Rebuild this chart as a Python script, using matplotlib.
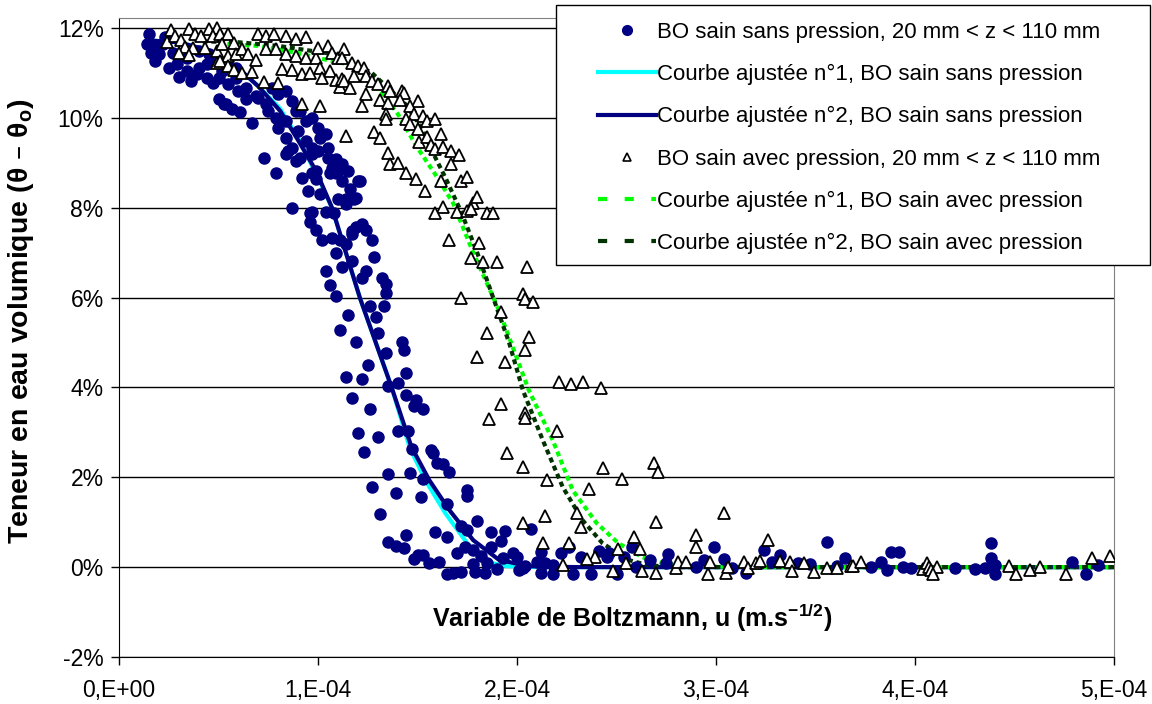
import numpy as np
import matplotlib
matplotlib.use('Agg')
import matplotlib.pyplot as plt
from matplotlib.ticker import FuncFormatter
from matplotlib.lines import Line2D
from matplotlib.patches import Rectangle

plt.rcParams['font.family'] = ['Liberation Sans', 'DejaVu Sans']

#---
# measured points : u in 1e-4 m.s^-1/2, theta in %
#---
# BO sain sans pression
u_sans = [0.15, 0.14, 0.19, 0.23, 0.16, 0.20, 0.18, 0.25, 0.30, 0.34, 0.36, 0.40, 0.44, 0.47, 0.50,
          0.54, 0.57, 0.61, 0.67, 0.49, 0.52, 0.55, 0.60, 0.64, 0.69, 0.74, 0.77, 0.75, 0.80, 0.84,
          0.87, 0.89, 0.79, 0.80, 0.84, 0.87, 0.85, 0.90, 0.94, 0.97, 1.00, 1.04, 0.94, 0.97, 1.00,
          1.05, 1.09, 1.05, 1.12, 1.10, 0.73, 0.79, 0.92, 0.99, 0.89, 0.39, 0.44, 0.50, 0.59, 0.64,
          0.70, 0.59, 0.40, 0.45, 0.29, 0.34, 0.22, 0.27, 0.53,
          0.87, 0.96, 0.96, 0.99, 1.02, 1.07, 1.09, 1.04, 1.06, 1.09, 1.12, 1.17, 1.24, 1.17, 1.22,
          1.19, 1.27, 1.28, 1.32, 1.34, 1.34, 1.10, 1.14, 1.18, 1.20, 1.15, 1.07, 1.01, 0.91, 0.84,
          0.84, 0.91, 0.97, 1.11, 1.14, 0.95, 0.97,
          0.97, 1.04, 1.08, 0.99, 1.01, 1.06, 1.09, 1.12, 1.16, 1.21, 1.19, 1.14, 1.17, 1.24, 1.22,
          1.26, 1.33, 1.29, 1.15, 1.11, 1.30, 1.19, 1.42, 1.43, 1.34, 1.25, 1.14, 1.22, 1.35, 1.40, 1.44,
          1.17, 1.26, 1.44, 1.49, 1.48, 1.53, 1.20, 1.30, 1.40, 1.45, 1.23, 1.47, 1.57, 1.58, 1.60,
          1.63, 1.66, 1.35, 1.46, 1.53, 1.27, 1.39, 1.52, 1.75, 1.75, 1.65, 1.31, 1.72, 1.80, 1.44,
          1.59, 1.65, 1.75, 1.87, 1.94, 1.92, 1.35, 1.39, 1.43, 1.50, 1.48, 1.53, 1.56, 1.61, 1.70,
          1.74, 1.78, 1.82, 1.78, 1.87, 1.85, 1.93, 1.98, 2.00, 2.01, 2.04, 1.65, 1.68, 1.72, 1.79,
          1.84, 1.90,
          2.07, 2.03, 2.12, 2.10, 2.14, 2.18, 2.12, 2.18, 2.22, 2.26, 2.28, 2.32, 2.37, 2.41, 2.45,
          2.46, 2.50, 2.54, 2.58, 2.60, 2.67, 2.76, 2.75, 2.94, 2.99, 2.90, 3.04, 3.08, 3.15,
          3.24, 3.28, 3.32, 3.41, 3.47, 3.56, 3.61, 3.65, 3.78, 3.83, 3.86, 3.88, 3.92, 3.94, 3.98,
          4.20, 4.30, 4.35, 4.38, 4.38, 4.40, 4.40, 4.79, 4.86, 4.92]
th_sans = [11.87, 11.64, 11.60, 11.80, 11.44, 11.42, 11.27, 11.10, 10.90, 11.33, 10.82, 11.10, 11.20, 10.78, 10.42,
           10.30, 10.20, 10.13, 9.89, 11.33, 11.04, 10.76, 10.60, 10.42, 10.49, 10.30, 10.67, 10.16, 10.53, 10.60,
           10.38, 10.16, 10.00, 9.78, 9.56, 9.33, 9.27, 9.71, 9.93, 10.00, 9.78, 9.64, 9.49, 9.33, 9.27,
           9.33, 9.09, 9.11, 8.98, 8.82, 9.10, 8.76, 8.67, 8.82, 9.04, 10.98, 10.89, 10.89, 10.89, 10.67,
           10.44, 11.10, 11.49, 11.42, 11.20, 11.04, 11.64, 11.44, 10.31,
           8.00, 7.89, 7.67, 7.51, 7.29, 7.33, 6.98, 6.58, 6.27, 6.04, 6.67, 6.82, 6.58, 7.49, 7.64,
           7.56, 7.27, 6.91, 6.44, 6.31, 6.09, 8.20, 8.20, 8.20, 8.60, 8.82, 8.89, 9.56, 10.16, 9.93,
           9.20, 9.11, 9.20, 7.27, 7.20, 8.38, 8.76,
           7.91, 7.91, 7.89, 8.64, 8.31, 8.78, 8.76, 8.60, 8.42, 8.60, 8.22, 8.09, 7.42, 7.51, 6.44,
           5.82, 5.80, 5.56, 5.62, 5.27, 5.20, 5.00, 5.02, 4.84, 4.76, 4.49, 4.22, 4.18, 4.04, 4.09, 4.31,
           3.76, 3.53, 3.84, 3.73, 3.58, 3.53, 2.98, 2.89, 3.04, 3.02, 2.56, 2.62, 2.60, 2.53, 2.31,
           2.29, 2.11, 2.07, 2.09, 1.96, 1.78, 1.64, 1.56, 1.71, 1.58, 1.40, 1.18, 0.91, 1.02, 0.71,
           0.78, 0.67, 0.82, 0.78, 0.80, 0.58, 0.56, 0.47, 0.42, 0.27, 0.18, 0.27, 0.09, 0.11, 0.31,
           0.44, 0.38, 0.24, 0.07, 0.44, 0.09, 0.20, 0.31, 0.22, -0.07, 0.02, -0.16, -0.13, -0.11, -0.11,
           -0.13, -0.04,
           0.84, -0.02, 0.33, 0.11, 0.09, 0.04, -0.13, -0.16, 0.31, 0.44, -0.16, 0.22, -0.16, 0.36, 0.22,
           0.31, -0.16, 0.22, 0.44, 0.00, 0.16, 0.29, 0.09, 0.16, 0.44, 0.00, 0.18, -0.02, -0.13,
           0.38, 0.11, 0.27, 0.09, 0.07, 0.56, 0.02, 0.20, 0.00, 0.11, -0.07, 0.33, 0.33, 0.00, -0.02,
           -0.02, -0.04, -0.02, 0.53, 0.20, 0.04, -0.16, 0.11, -0.16, 0.04]

# BO sain avec pression
u_avec = [0.26, 0.24, 0.28, 0.31, 0.35, 0.38, 0.41, 0.45, 0.49, 0.47, 0.51, 0.55, 0.33, 0.37, 0.30,
          0.35, 0.43, 0.49, 0.52, 0.58, 0.55, 0.59, 0.49, 0.51, 0.55, 0.58, 0.62, 0.67, 0.62, 0.65,
          0.69, 0.70, 0.74, 0.78, 0.84, 0.89, 0.94, 0.74, 0.79, 0.84, 0.89, 0.94, 0.99, 1.05, 1.00,
          0.82, 0.87, 0.92, 0.96, 1.01, 1.06, 1.02, 1.09, 1.11, 1.12, 0.73, 0.80, 0.92, 1.01, 1.14,
          1.07, 1.10,
          1.13, 1.12, 1.17, 1.20, 1.23, 1.13, 1.16, 1.18, 1.24, 1.27, 1.24, 1.30, 1.35, 1.36, 1.31,
          1.35, 1.22, 1.42, 1.43, 1.41, 1.50, 1.34, 1.34, 1.46, 1.48, 1.44, 1.53, 1.55, 1.59, 1.46,
          1.50, 1.51, 1.55, 1.57, 1.59, 1.62, 1.63, 1.67, 1.71, 1.67, 1.28, 1.31, 1.35, 1.36, 1.40,
          1.44, 1.49, 1.72, 1.75,
          1.62, 1.78, 1.80, 1.63, 1.70, 1.75, 1.77, 1.85, 1.88, 1.66, 1.81, 1.77, 1.83, 1.90, 2.05,
          1.72, 2.03, 2.04, 2.08, 1.92, 1.85, 2.06, 2.04, 1.80, 1.94, 2.21, 2.27, 2.33, 2.42, 1.54, 1.59,
          1.92, 1.86, 2.04, 2.04, 1.95, 2.03, 2.03,
          2.69, 2.71, 2.53, 2.43, 2.36, 2.14, 2.70, 2.59, 2.62, 2.55, 2.48, 2.39, 2.35, 2.26, 2.23,
          2.13, 2.51, 2.63, 2.70, 2.80, 2.81, 2.85, 2.90, 2.90, 2.20, 2.15, 2.30, 2.32, 3.04, 2.97,
          2.96, 3.05, 3.06, 3.14,
          3.26, 3.16, 3.20, 3.22, 3.32, 3.37, 3.38, 3.44, 3.49, 3.56, 3.61, 3.68, 3.69, 3.73, 4.04,
          4.06, 4.07, 4.08, 4.11, 4.09, 4.47, 4.51, 4.58, 4.63, 4.76, 4.89, 4.98]
th_avec = [11.96, 11.69, 11.82, 11.73, 11.98, 11.87, 11.82, 11.98, 12.00, 11.82, 11.87, 11.87, 11.58, 11.56, 11.44,
           11.40, 11.56, 11.49, 11.64, 11.67, 11.38, 11.42, 11.22, 11.27, 11.16, 11.07, 11.00, 11.02, 11.53, 11.42,
           11.29, 11.87, 11.82, 11.87, 11.82, 11.76, 11.80, 11.53, 11.53, 11.42, 11.38, 11.33, 11.33, 11.60, 11.56,
           11.09, 11.07, 10.98, 11.00, 11.11, 11.04, 10.89, 10.84, 10.69, 10.87, 10.80, 10.78, 10.31, 10.27, 9.60,
           11.44, 11.33,
           11.53, 11.33, 11.22, 11.16, 11.11, 10.82, 10.67, 10.93, 10.93, 10.82, 10.53, 10.76, 10.71, 10.60, 10.40,
           10.33, 10.27, 10.60, 10.56, 10.40, 10.38, 10.09, 9.98, 10.27, 10.09, 9.98, 10.04, 9.93, 9.98, 9.87,
           9.76, 9.47, 9.58, 9.40, 9.31, 9.64, 9.36, 9.27, 9.18, 8.96, 9.69, 9.56, 9.22, 8.98, 9.00,
           8.76, 8.64, 8.60, 8.69,
           8.60, 8.11, 8.24, 8.02, 7.91, 7.93, 7.96, 7.87, 7.89, 7.27, 7.22, 6.89, 6.80, 6.78, 6.67,
           5.98, 6.07, 5.96, 5.91, 5.67, 5.20, 5.13, 4.84, 4.67, 4.56, 4.11, 4.07, 4.13, 3.98, 8.36, 7.89,
           3.64, 3.29, 3.44, 3.31, 2.53, 2.22, 0.98,
           2.31, 2.11, 1.96, 2.20, 1.73, 1.13, 1.00, 0.67, 0.40, 0.09, -0.09, 0.22, 0.18, 0.53, 0.04,
           0.53, 0.40, -0.09, -0.13, -0.02, 0.11, 0.11, 0.71, 0.44, 3.04, 1.93, 1.20, 0.89, 1.20, 0.11,
           -0.16, -0.13, 0.00, 0.11,
           0.60, -0.02, 0.09, 0.13, 0.13, 0.11, -0.09, 0.09, -0.11, -0.02, -0.02, 0.02, 0.02, 0.11, -0.04,
           0.09, 0.00, -0.07, 0.00, -0.16, 0.02, -0.16, -0.07, 0.00, -0.16, 0.20, 0.24]

#---
# fitted curves, points
#---
u_fit1_sans = [0.15, 0.30, 0.45, 0.60, 0.70, 0.81, 0.90, 1.00, 1.07, 1.14, 1.21, 1.29, 1.37, 1.46,
               1.54, 1.64, 1.75, 1.85, 1.95, 2.10, 2.40, 3.00, 4.00, 5.00]
th_fit1_sans = [11.72, 11.68, 11.50, 11.10, 10.70, 10.20, 9.55, 8.67, 8.00, 7.00, 6.00, 5.00, 4.00, 2.67,
                1.93, 1.20, 0.53, 0.11, 0.02, 0.00, 0.00, 0.00, 0.00, 0.00]

u_fit2_sans = [0.15, 0.30, 0.45, 0.60, 0.70, 0.81, 0.90, 0.99, 1.07, 1.14, 1.21, 1.29, 1.37, 1.47,
               1.56, 1.66, 1.78, 1.91, 2.06, 2.30, 2.60, 3.00, 4.00, 5.00]
th_fit2_sans = [11.72, 11.68, 11.50, 11.10, 10.70, 10.15, 9.50, 8.82, 8.00, 7.00, 6.00, 5.00, 4.00, 2.67,
                1.93, 1.27, 0.60, 0.16, 0.02, 0.00, 0.00, 0.00, 0.00, 0.00]

u_fit1_avec = [0.50, 0.70, 0.90, 1.00, 1.14, 1.27, 1.40, 1.50, 1.60, 1.68, 1.78, 1.91, 2.06, 2.18,
               2.28, 2.40, 2.51, 2.63, 2.73, 2.85, 3.20, 4.00, 5.00]
th_fit1_avec = [11.65, 11.60, 11.44, 11.33, 11.20, 10.87, 10.09, 9.33, 8.67, 8.09, 7.00, 5.71, 3.93, 2.82,
                1.71, 0.98, 0.53, 0.22, 0.09, 0.02, 0.00, 0.00, 0.00]

u_fit2_avec = [0.42, 0.60, 0.80, 0.95, 1.10, 1.27, 1.44, 1.52, 1.59, 1.64, 1.72, 1.80, 1.88, 1.96,
               2.03, 2.13, 2.23, 2.33, 2.43, 2.56, 2.66, 2.80, 3.20, 4.00, 5.00]
th_fit2_avec = [11.70, 11.68, 11.60, 11.50, 11.40, 11.00, 10.30, 9.78, 9.11, 8.67, 7.90, 7.00, 6.00, 5.00,
                3.93, 2.82, 1.78, 1.04, 0.53, 0.16, 0.04, 0.00, 0.00, 0.00, 0.00]

labels = ['BO sain sans pression, 20 mm < z < 110 mm',
          'Courbe ajustée n°1, BO sain sans pression',
          'Courbe ajustée n°2, BO sain sans pression',
          'BO sain avec pression, 20 mm < z < 110 mm',
          'Courbe ajustée n°1, BO sain avec pression',
          'Courbe ajustée n°2, BO sain avec pression']


def xy(u, th):
    return np.array(u) * 1e-4, np.array(th) / 100.


fig = plt.figure(figsize=(11.52, 7.04), dpi=100)
ax = fig.add_axes([119/1152., 1 - 657/704., (1114 - 119)/1152., (657 - 18)/704.])

navy = '#000080'
cyan = '#00FFFF'
lgreen = '#00FF00'
dgreen = '#003300'

#----
# fitted curves under the markers
#--
x, y = xy(u_fit1_sans, th_fit1_sans)
ax.plot(x, y, color=cyan, lw=3, zorder=2, solid_capstyle='butt')
x, y = xy(u_fit2_sans, th_fit2_sans)
ax.plot(x, y, color=navy, lw=3, zorder=2.1, solid_capstyle='butt')
x, y = xy(u_fit1_avec, th_fit1_avec)
ax.plot(x, y, color=lgreen, lw=3, ls=(0, (1.2, 0.9)), zorder=2.2)
x, y = xy(u_fit2_avec, th_fit2_avec)
ax.plot(x, y, color=dgreen, lw=3, ls=(0, (1.2, 0.9)), zorder=2.3)

#----
# measured points
#--
x, y = xy(u_sans, th_sans)
ax.plot(x, y, 'o', color=navy, ms=8, mec=navy, zorder=3)
x, y = xy(u_avec, th_avec)
ax.plot(x, y, '^', mfc='white', mec='black', mew=1.3, ms=8, zorder=4)

#----
# axes
#--
ax.set_xlim(0, 5e-4)
ax.set_ylim(-0.02, 0.1222)
ax.set_xticks(np.arange(0, 6e-4, 1e-4))
ax.set_yticks(np.arange(-0.02, 0.13, 0.02))
ax.xaxis.set_major_formatter(FuncFormatter(
    lambda v, p: '0,E+00' if abs(v) < 1e-12 else '%d,E-04' % round(v * 1e4)))
ax.yaxis.set_major_formatter(FuncFormatter(lambda v, p: '%d%%' % round(v * 100)))
ax.tick_params(axis='both', labelsize=16.5, direction='out', length=6, width=1, color='black')
ax.tick_params(axis='x', pad=10)
ax.tick_params(axis='y', pad=5)
ax.grid(axis='y', color='black', lw=1)
ax.set_axisbelow(True)
for s in ['top', 'right']:
    ax.spines[s].set_color('#808080')
for s in ['left', 'bottom']:
    ax.spines[s].set_color('black')

ax.set_ylabel('Teneur en eau volumique (θ – θ$_\\mathregular{o}$)', fontsize=20.5,
              fontweight='bold')
ax.yaxis.set_label_coords(-0.083, 0.525)
fig.text(632/1152., 1 - 618/704., 'Variable de Boltzmann, u (m.s$^{\\mathregular{-1/2}}$)',
         fontsize=18, fontweight='bold', ha='center', va='center')

#----
# legend : frame drawn apart, wider than the entries
#--
fig.patches.append(Rectangle((556/1152., 1 - 265/704.), 594/1152., 260/704.,
                             transform=fig.transFigure, facecolor='white',
                             edgecolor='black', lw=1, zorder=1))
handles = [Line2D([], [], ls='none', marker='o', color=navy, ms=7),
           Line2D([], [], color=cyan, lw=3),
           Line2D([], [], color=navy, lw=3),
           Line2D([], [], ls='none', marker='^', mfc='white', mec='black', mew=1.2, ms=6),
           Line2D([], [], color=lgreen, lw=3, ls=(0, (2.2, 4.2))),
           Line2D([], [], color=dgreen, lw=3, ls=(0, (2.2, 4.2)))]
leg = fig.legend(handles, labels, loc='upper left', bbox_to_anchor=(598/1152., 1 - 22/704.),
                 fontsize=16, frameon=False, handlelength=2.6, handletextpad=0.05,
                 labelspacing=0.95, borderpad=0, borderaxespad=0)
leg.set_zorder(2)

fig.savefig('out.png', dpi=100)
